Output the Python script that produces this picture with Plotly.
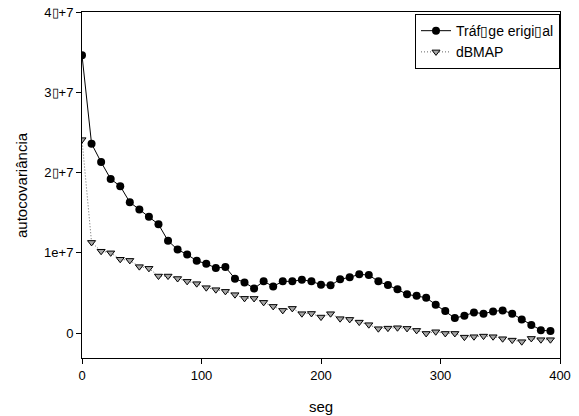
import plotly.graph_objects as go

# ---- data ----
lag = [0, 8, 16, 24, 32, 40, 48, 56, 64, 72,
       80, 88, 96, 104, 112, 120, 128, 136, 144, 152,
       160, 168, 176, 184, 192, 200, 208, 216, 224, 232,
       240, 248, 256, 264, 272, 280, 288, 296, 304, 312,
       320, 328, 336, 344, 352, 360, 368, 376, 384, 392]

trafego_original = [3.46e7, 2.36e7, 2.13e7, 1.92e7, 1.83e7, 1.63e7, 1.54e7, 1.45e7, 1.355e7, 1.15e7,
                    1.04e7, 0.98e7, 0.90e7, 0.865e7, 0.81e7, 0.823e7, 0.678e7, 0.632e7, 0.556e7, 0.645e7,
                    0.582e7, 0.645e7, 0.645e7, 0.666e7, 0.645e7, 0.603e7, 0.595e7, 0.67e7, 0.695e7, 0.732e7,
                    0.723e7, 0.645e7, 0.60e7, 0.545e7, 0.483e7, 0.466e7, 0.441e7, 0.354e7, 0.274e7, 0.187e7,
                    0.217e7, 0.258e7, 0.242e7, 0.27e7, 0.283e7, 0.242e7, 0.171e7, 0.10e7, 0.037e7, 0.025e7]

dbmap = [2.41e7, 1.13e7, 1.02e7, 1.00e7, 0.92e7, 0.906e7, 0.828e7, 0.807e7, 0.711e7, 0.711e7,
         0.68e7, 0.645e7, 0.616e7, 0.566e7, 0.541e7, 0.52e7, 0.479e7, 0.433e7, 0.432e7, 0.383e7,
         0.333e7, 0.283e7, 0.308e7, 0.242e7, 0.245e7, 0.20e7, 0.242e7, 0.18e7, 0.171e7, 0.137e7,
         0.105e7, 0.055e7, 0.062e7, 0.067e7, 0.059e7, 0.034e7, -0.004e7, 0.017e7, -0.004e7, -0.004e7,
         -0.05e7, -0.045e7, -0.037e7, -0.045e7, -0.07e7, -0.087e7, -0.107e7, -0.066e7, -0.082e7, -0.082e7]

y_tickvals = [0, 1e7, 2e7, 3e7, 4e7]
y_ticktext = ["0", "1e+7", "2\u25af+7", "3\u25af+7", "4\u25af+7"]
x_tickvals = [0, 100, 200, 300, 400]

series_names = ["Tr\u00e1f\u25afge erigi\u25afal", "dBMAP"]

FONT = "Liberation Sans, Arial, sans-serif"

fig = go.Figure()
fig.add_trace(go.Scatter(
    x=lag, y=trafego_original, name=series_names[0], mode="lines+markers",
    line=dict(color="black", width=1),
    marker=dict(symbol="circle", size=8, color="black"),
))
fig.add_trace(go.Scatter(
    x=lag, y=dbmap, name=series_names[1], mode="lines+markers",
    line=dict(color="#666666", width=1, dash="1px,2px"),
    marker=dict(symbol="triangle-down", size=7, color="#a6a6a6",
                line=dict(color="black", width=1)),
))

axis_common = dict(
    showline=True, linecolor="black", linewidth=1, mirror=True,
    ticks="outside", ticklen=5, tickcolor="black", tickwidth=1,
    showgrid=False, zeroline=False, automargin=False,
    tickfont=dict(family=FONT, size=13, color="black"),
)

fig.update_xaxes(range=[0, 400], tickvals=x_tickvals, **axis_common)
fig.update_yaxes(range=[-3.1e6, 4e7], tickvals=y_tickvals, ticktext=y_ticktext, **axis_common)

fig.update_layout(
    width=579, height=416,
    margin=dict(l=82, r=19, t=12, b=58, pad=0, autoexpand=False),
    plot_bgcolor="white", paper_bgcolor="white",
    font=dict(family=FONT, color="black"),
    legend=dict(
        x=1.0, y=0.994, xanchor="right", yanchor="top",
        bgcolor="white", bordercolor="black", borderwidth=1,
        font=dict(family=FONT, size=14, color="black"),
        tracegroupgap=0, itemwidth=30,
    ),
    annotations=[
        dict(text="seg", xref="paper", yref="paper", x=0.5, y=-48 / 346,
             xanchor="center", yanchor="middle", showarrow=False,
             font=dict(family=FONT, size=15, color="black")),
        dict(text="autocovari\u00e2ncia", xref="paper", yref="paper", x=(21 - 82) / 478, y=0.5,
             xanchor="center", yanchor="middle", showarrow=False, textangle=-90,
             font=dict(family=FONT, size=15, color="black")),
    ],
)

fig.write_html("out.html", config={"displayModeBar": False},
               post_script="document.body.style.margin='0px';document.body.style.padding='0px';")
